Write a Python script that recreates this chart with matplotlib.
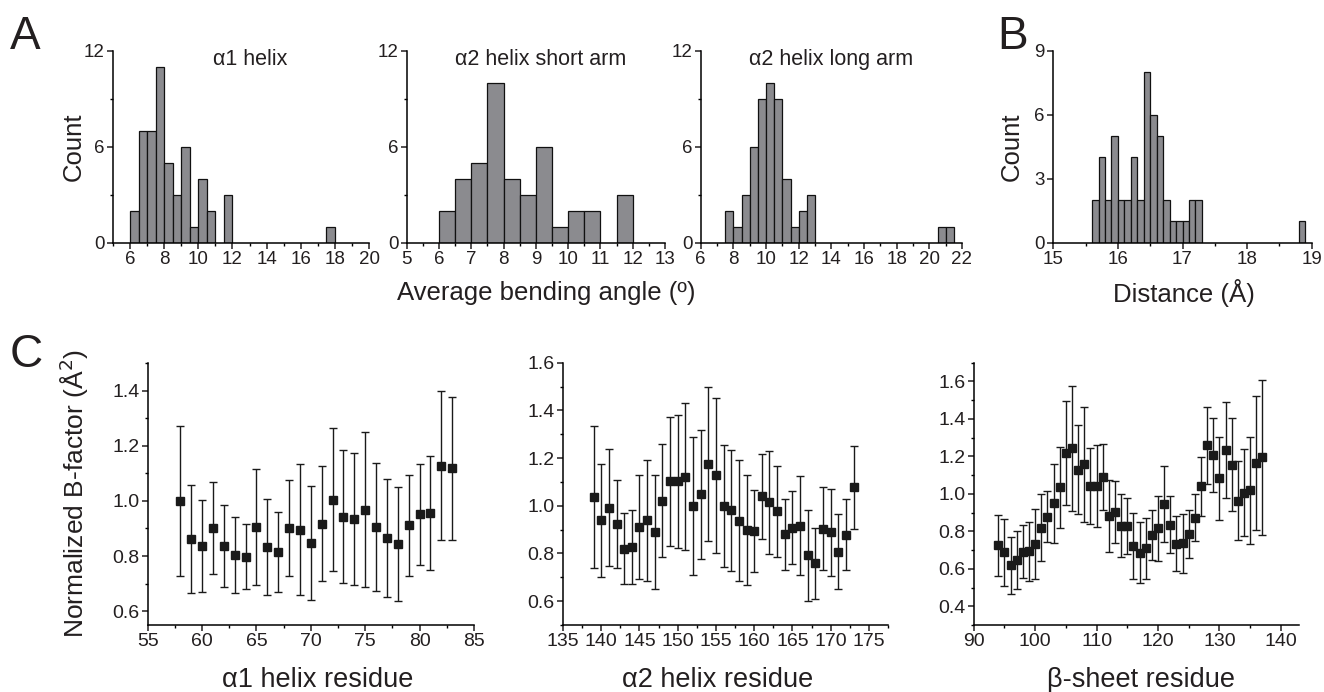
import numpy as np
import matplotlib
matplotlib.use("Agg")
import matplotlib.pyplot as plt
from matplotlib.ticker import MultipleLocator

plt.rcParams['font.family'] = ['Liberation Sans', 'DejaVu Sans']
plt.rcParams['axes.linewidth'] = 1.1

# ---- panel A / B histogram data (bin start, bin width, counts per bin)
a1_start, a1_width = 6.0, 0.5
a1_counts = [2, 7, 7, 11, 5, 3, 6, 1, 4, 2, 0, 3,
             0, 0, 0, 0, 0, 0, 0, 0, 0, 0, 0, 1]

a2_start, a2_width = 6.0, 0.5
a2_counts = [2, 4, 5, 10, 4, 3, 6, 1, 2, 2, 0, 3]

a3_start, a3_width = 7.5, 0.5
a3_counts = [2, 1, 3, 6, 9, 10, 9, 4, 1, 2, 3,
             0, 0, 0, 0, 0, 0, 0, 0, 0, 0, 0, 0, 0, 0, 0, 1, 1]

b_start, b_width = 15.6, 0.1
b_counts = [2, 4, 2, 5, 2, 2, 4, 2, 8, 6, 5, 2, 1, 1, 1, 2, 2,
            0, 0, 0, 0, 0, 0, 0, 0, 0, 0, 0, 0, 0, 0, 0, 1]

# ---- panel C data: residue, mean normalized B-factor, sd
c1_res = list(range(58, 84))
c1_mean = [1.001, 0.862, 0.835, 0.902, 0.836, 0.804, 0.798, 0.905, 0.832, 0.814,
           0.901, 0.896, 0.847, 0.918, 1.004, 0.942, 0.934, 0.968, 0.905, 0.866,
           0.843, 0.911, 0.951, 0.955, 1.128, 1.118]
c1_sd = [0.272, 0.196, 0.167, 0.167, 0.150, 0.137, 0.117, 0.210, 0.175, 0.144,
         0.174, 0.237, 0.206, 0.208, 0.259, 0.241, 0.240, 0.281, 0.232, 0.213,
         0.206, 0.183, 0.182, 0.206, 0.270, 0.259]

c2_res = list(range(139, 174))
c2_mean = [1.037, 0.939, 0.992, 0.924, 0.820, 0.826, 0.911, 0.939, 0.890, 1.021,
           1.102, 1.102, 1.122, 0.999, 1.048, 1.175, 1.129, 0.999, 0.981, 0.938,
           0.899, 0.893, 1.039, 1.014, 0.977, 0.880, 0.908, 0.917, 0.792, 0.759,
           0.903, 0.889, 0.807, 0.878, 1.077]
c2_sd = [0.299, 0.237, 0.246, 0.184, 0.150, 0.156, 0.217, 0.253, 0.239, 0.236,
         0.270, 0.278, 0.309, 0.289, 0.271, 0.321, 0.325, 0.255, 0.254, 0.253,
         0.231, 0.172, 0.178, 0.215, 0.190, 0.149, 0.154, 0.207, 0.190, 0.149,
         0.174, 0.182, 0.157, 0.149, 0.173]

c3_res = list(range(94, 138))
c3_mean = [0.726, 0.687, 0.618, 0.646, 0.691, 0.693, 0.730, 0.819, 0.878, 0.949,
           1.035, 1.218, 1.243, 1.129, 1.158, 1.042, 1.040, 1.090, 0.880, 0.903,
           0.830, 0.830, 0.723, 0.686, 0.709, 0.780, 0.817, 0.944, 0.835, 0.734,
           0.736, 0.785, 0.873, 1.040, 1.259, 1.207, 1.083, 1.234, 1.156, 0.964,
           1.006, 1.019, 1.165, 1.195]
c3_sd = [0.163, 0.177, 0.151, 0.154, 0.142, 0.156, 0.187, 0.180, 0.137, 0.211,
         0.215, 0.276, 0.335, 0.236, 0.306, 0.202, 0.219, 0.177, 0.193, 0.167,
         0.169, 0.149, 0.176, 0.162, 0.161, 0.135, 0.174, 0.203, 0.153, 0.148,
         0.157, 0.129, 0.126, 0.159, 0.204, 0.198, 0.220, 0.258, 0.249, 0.209,
         0.233, 0.286, 0.357, 0.414]

W, H = 1324, 692
fig = plt.figure(figsize=(W / 100, H / 100), dpi=100)
txt = '#231f20'
bar_gray = '#8b8b8f'


def add_ax(x0, y0, x1, y1):
    # pixel box (top-left origin) -> figure axes
    return fig.add_axes([x0 / W, 1 - y1 / H, (x1 - x0) / W, (y1 - y0) / H])


def style(ax, size):
    for s in ['top', 'right']:
        ax.spines[s].set_visible(False)
    ax.tick_params(which='major', direction='out', length=4, width=1.1,
                   labelsize=size, pad=2, colors=txt)
    ax.tick_params(which='minor', direction='out', length=2.5, width=1.0)


def hist(ax, start, width, counts):
    counts = np.array(counts)
    lefts = start + width * np.arange(len(counts))
    m = counts > 0
    ax.bar(lefts[m], counts[m], width, align='edge', color=bar_gray,
           edgecolor='#111111', linewidth=0.9, zorder=2)


# ---------------- panel A
ax1 = add_ax(113, 50.7, 369, 242.7)
hist(ax1, a1_start, a1_width, a1_counts)
ax1.set_xlim(5, 20)
ax1.xaxis.set_minor_locator(MultipleLocator(1))
ax1.set_xticks(range(6, 21, 2))

ax2 = add_ax(406.7, 50.7, 665, 242.7)
hist(ax2, a2_start, a2_width, a2_counts)
ax2.set_xlim(5, 13)
ax2.xaxis.set_major_locator(MultipleLocator(1))
ax2.xaxis.set_minor_locator(MultipleLocator(0.5))

ax3 = add_ax(700.7, 50.7, 962, 242.7)
hist(ax3, a3_start, a3_width, a3_counts)
ax3.set_xlim(6, 22)
ax3.xaxis.set_major_locator(MultipleLocator(2))
ax3.xaxis.set_minor_locator(MultipleLocator(1))

for ax, title, xc in [(ax1, '\u03b11 helix', 0.535),
                      (ax2, '\u03b12 helix short arm', 0.52),
                      (ax3, '\u03b12 helix long arm', 0.50)]:
    ax.set_ylim(0, 12)
    ax.yaxis.set_major_locator(MultipleLocator(6))
    ax.yaxis.set_minor_locator(MultipleLocator(3))
    style(ax, 13.5)
    ax.text(xc, 0.925, title, transform=ax.transAxes, ha='center',
            va='baseline', fontsize=15.5, color=txt)

# ---------------- panel B
axb = add_ax(1053.3, 50.7, 1311.7, 242.7)
hist(axb, b_start, b_width, b_counts)
axb.set_xlim(15, 19)
axb.set_ylim(0, 9)
axb.xaxis.set_major_locator(MultipleLocator(1))
axb.xaxis.set_minor_locator(MultipleLocator(0.5))
axb.yaxis.set_major_locator(MultipleLocator(3))
style(axb, 13.5)

fig.text(74 / W, 1 - 147 / H, 'Count', rotation=90, ha='center', va='center',
         fontsize=18.5, color=txt)
fig.text(1012 / W, 1 - 147 / H, 'Count', rotation=90, ha='center', va='center',
         fontsize=18.5, color=txt)
fig.text(546 / W, 1 - 293 / H, 'Average bending angle (\u00ba)', ha='center',
         va='center', fontsize=18.5, color=txt)
fig.text(1184 / W, 1 - 293 / H, 'Distance (\u00c5)', ha='center',
         va='center', fontsize=18.5, color=txt)

# ---------------- panel C
c_axes = [
    (add_ax(147.7, 363, 474, 625), c1_res, c1_mean, c1_sd, (55, 85), (0.55, 1.5),
     5, 2.5, '\u03b11 helix residue', 318),
    (add_ax(563, 362.7, 888, 625), c2_res, c2_mean, c2_sd, (135, 177.5), (0.5, 1.6),
     5, 2.5, '\u03b12 helix residue', 718),
    (add_ax(973.7, 362.7, 1299.3, 625), c3_res, c3_mean, c3_sd, (90, 143), (0.3, 1.7),
     10, 5, '\u03b2-sheet residue', 1141),
]
for ax, res, mean, sd, xl, yl, xmaj, xmin, lab, xc in c_axes:
    ax.errorbar(res, mean, yerr=sd, fmt='s', color='#1a1a1a', ms=5.3,
                ecolor='#1a1a1a', elinewidth=1.0, capsize=2.8, capthick=1.0)
    ax.set_xlim(*xl)
    ax.set_ylim(*yl)
    ax.xaxis.set_major_locator(MultipleLocator(xmaj))
    ax.xaxis.set_minor_locator(MultipleLocator(xmin))
    ax.yaxis.set_major_locator(MultipleLocator(0.2))
    ax.yaxis.set_minor_locator(MultipleLocator(0.1))
    ax.yaxis.set_major_formatter(lambda v, p: f'{v:.1f}')
    style(ax, 14)
    fig.text(xc / W, 1 - 680 / H, lab, ha='center', va='center',
             fontsize=19.5, color=txt)

fig.text(74 / W, 1 - 494 / H, 'Normalized B-factor (\u00c5$^2$)', rotation=90,
         ha='center', va='center', fontsize=19, color=txt)

# panel letters
for letter, x, y in [('A', 10, 15), ('B', 997, 15), ('C', 10, 333)]:
    fig.text(x / W, 1 - y / H, letter, ha='left', va='top', fontsize=33, color=txt)

fig.savefig('out.png', dpi=100)
